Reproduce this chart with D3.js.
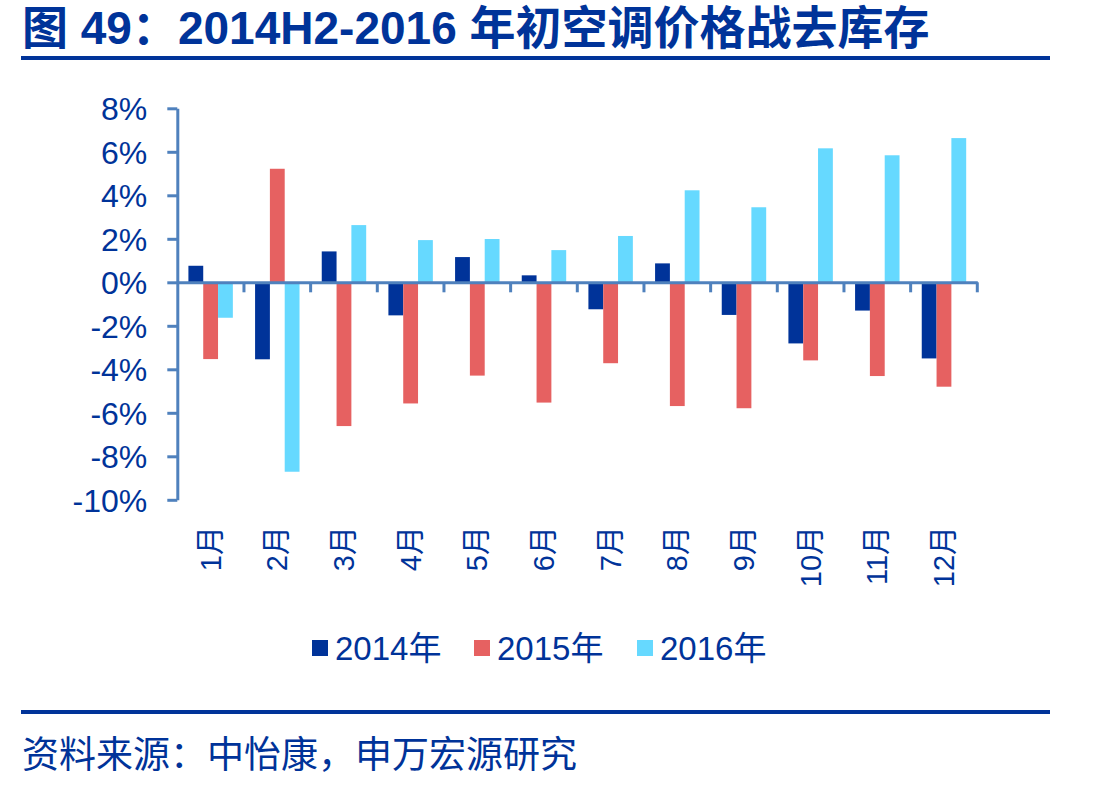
<!DOCTYPE html>
<html><head><meta charset="utf-8">
<script src="https://cdn.jsdelivr.net/npm/d3@7"></script>
<style>
html,body{margin:0;padding:0;background:#fff;}
svg{display:block;}
text{font-family:"Liberation Sans","Noto Sans CJK SC",sans-serif;}
</style></head>
<body>
<svg id="c" width="1095" height="787"></svg>
<script>
const categories = ["1月","2月","3月","4月","5月","6月","7月","8月","9月","10月","11月","12月"];
const seriesNames = ["2014年","2015年","2016年"];
const s2014 = [0.76,-3.54,1.42,-1.52,1.16,0.32,-1.24,0.87,-1.50,-2.81,-1.30,-3.50];
const s2015 = [-3.53,5.22,-6.61,-5.57,-4.29,-5.53,-3.72,-5.69,-5.79,-3.59,-4.31,-4.80];
const s2016 = [-1.63,-8.71,2.63,1.94,1.99,1.48,2.13,4.23,3.45,6.16,5.84,6.63];
const yTicks = [-10,-8,-6,-4,-2,0,2,4,6,8];
const titleText = "图 49：2014H2-2016 年初空调价格战去库存";
const sourceText = "资料来源：中怡康，申万宏源研究";

const colors = ["#003399","#E66161","#66D9FF"];
const navy = "#003399";
const axisColor = "#4F81BD";
const seriesData = [s2014, s2015, s2016];

const svg = d3.select("#c");

// title
svg.append("text").attr("x",22).attr("y",44)
  .attr("font-size",46).attr("font-weight","bold").attr("fill",navy)
  .text(titleText);
svg.append("rect").attr("x",21).attr("y",56).attr("width",1029).attr("height",4).attr("fill",navy);

// scales
const x0 = d3.scaleBand().domain(categories).range([177.3,977.3]).paddingInner(0).paddingOuter(0);
const x1 = d3.scaleBand().domain(seriesNames).range([0,x0.bandwidth()]).paddingInner(0).paddingOuter(0.75);
const y = d3.scaleLinear().domain([-10,8]).range([499.8,108.3]);

// bars
seriesNames.forEach((s,si)=>{
  svg.append("g").selectAll("rect").data(categories.map((c,i)=>({c,v:seriesData[si][i]})))
    .join("rect")
    .attr("x",d=>x0(d.c)+x1(s))
    .attr("width",x1.bandwidth())
    .attr("y",d=>y(Math.max(0,d.v)))
    .attr("height",d=>Math.abs(y(d.v)-y(0)))
    .attr("fill",colors[si]);
});

// y axis
const yAxis = svg.append("g").attr("transform","translate(177.3,0)")
  .call(d3.axisLeft(y).tickValues(yTicks).tickSize(10).tickSizeOuter(0).tickPadding(20).tickFormat(d=>d+"%"));
yAxis.select(".domain").attr("stroke",axisColor).attr("stroke-width",3);
yAxis.selectAll(".tick line").attr("stroke",axisColor).attr("stroke-width",3);
yAxis.selectAll(".tick text").attr("fill",navy).attr("font-size",32).attr("x",-30).attr("dy","0.35em")
  .style("font-family",'"Liberation Sans","Noto Sans CJK SC",sans-serif');

// x axis
const xAxis = svg.append("g").attr("transform",`translate(0,${y(0)})`)
  .call(d3.axisBottom(x0).tickSize(0).tickSizeOuter(0));
xAxis.select(".domain").attr("stroke",axisColor).attr("stroke-width",3);
xAxis.selectAll(".tick text")
  .attr("fill",navy).attr("font-size",29)
  .attr("transform","rotate(-90)")
  .attr("text-anchor","end")
  .attr("x",-(526-y(0))).attr("y",0).attr("dy","0.35em")
  .style("font-family",'"Liberation Sans","Noto Sans CJK SC",sans-serif');
xAxis.selectAll(".tick-b").data(categories).join("line").attr("class","tick-b")
  .attr("x1",d=>x0(d)+x0.bandwidth()).attr("x2",d=>x0(d)+x0.bandwidth())
  .attr("y1",0).attr("y2",10).attr("stroke",axisColor).attr("stroke-width",3);

// legend
const legX = [312,474,637];
const lg = svg.append("g").selectAll("g").data(seriesNames).join("g")
  .attr("transform",(d,i)=>`translate(${legX[i]},640)`);
lg.append("rect").attr("width",16).attr("height",16).attr("fill",(d,i)=>colors[i]);
lg.append("text").attr("x",23).attr("y",20).attr("font-size",33).attr("fill",navy).text(d=>d);

// footer
svg.append("rect").attr("x",21).attr("y",710).attr("width",1029).attr("height",4).attr("fill",navy);
svg.append("text").attr("x",22).attr("y",768).attr("font-size",37).attr("fill",navy).text(sourceText);
</script>
</body></html>
